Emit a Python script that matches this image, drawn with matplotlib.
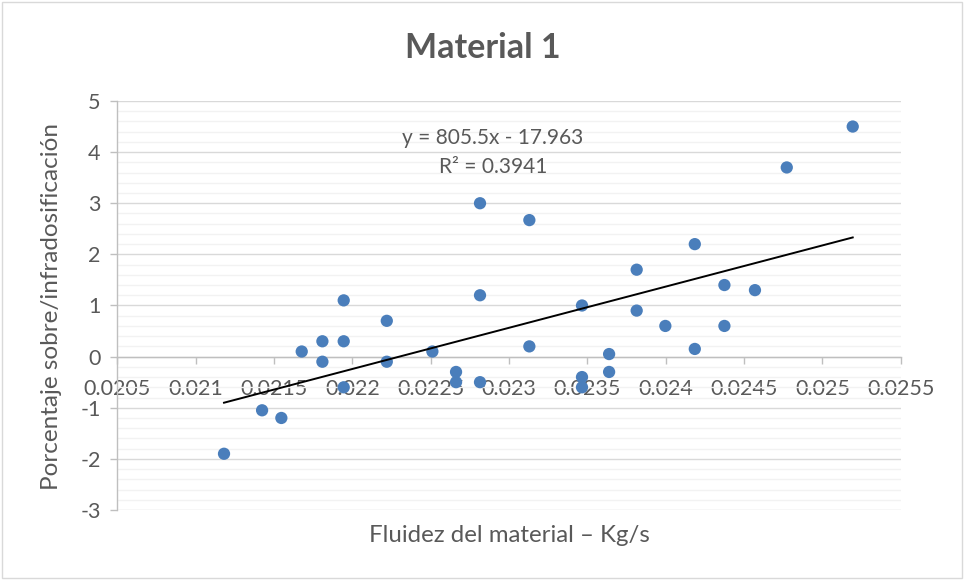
import matplotlib
matplotlib.use("Agg")
import matplotlib.pyplot as plt
from matplotlib.patches import Rectangle
from matplotlib.ticker import MultipleLocator, FixedLocator
import numpy as np

# Material flow rate (kg/s) and over/under-dosing percentage
fluidez = [
    0.021181, 0.021424, 0.021547, 0.021677, 0.021809, 0.021809, 0.021945,
    0.021945, 0.021945, 0.02222, 0.02222, 0.022511, 0.022662, 0.022662,
    0.022815, 0.022815, 0.022815, 0.02313, 0.02313, 0.023466, 0.023466,
    0.023466, 0.023639, 0.023639, 0.023815, 0.023815, 0.023998, 0.024186,
    0.024186, 0.024375, 0.024375, 0.02457, 0.024773, 0.025194,
]
porcentaje = [
    -1.9, -1.05, -1.2, 0.1, 0.3, -0.1, 1.1,
    0.3, -0.6, 0.7, -0.1, 0.1, -0.3, -0.5,
    3.0, 1.2, -0.5, 2.67, 0.2, 1.0, -0.4,
    -0.6, 0.05, -0.3, 1.7, 0.9, 0.6, 2.2,
    0.15, 1.4, 0.6, 1.3, 3.7, 4.5,
]

# Linear trendline coefficients (as reported on the chart)
pendiente = 805.5
intercepto = -17.963
r2 = 0.3941

x_ticks = [0.0205, 0.021, 0.0215, 0.022, 0.0225, 0.023, 0.0235, 0.024,
           0.0245, 0.025, 0.0255]
x_tick_labels = ["0.0205", "0.021", "0.0215", "0.022", "0.0225", "0.023",
                 "0.0235", "0.024", "0.0245", "0.025", "0.0255"]
y_ticks = [-3, -2, -1, 0, 1, 2, 3, 4, 5]

FONT = ["Lato", "DejaVu Sans"]
TXT = "#595959"
plt.rcParams["font.family"] = FONT

fig = plt.figure(figsize=(9.64, 5.80), dpi=100)
fig.patches.append(Rectangle((0.002, 0.003), 0.996, 0.994, transform=fig.transFigure,
                             fill=False, edgecolor="#D9D9D9", linewidth=1.0))

ax = fig.add_axes([0.1217, 0.1207, 0.8126, 0.7052])
ax.set_xlim(0.0205, 0.0255)
ax.set_ylim(-3, 5)

# gridlines: minor every 0.2, major every 1
ax.yaxis.set_major_locator(FixedLocator(y_ticks))
ax.yaxis.set_minor_locator(MultipleLocator(0.2))
ax.grid(axis="y", which="minor", color="#F2F2F2", linewidth=1.0, zorder=0)
ax.grid(axis="y", which="major", color="#D9D9D9", linewidth=1.0, zorder=0)
ax.set_axisbelow(True)

ax.set_xticks(x_ticks)
ax.set_xticklabels(x_tick_labels)
ax.set_yticks(y_ticks)
ax.set_yticklabels([str(v) for v in y_ticks])

for s in ("top", "right"):
    ax.spines[s].set_visible(False)
ax.spines["bottom"].set_position(("data", 0))
ax.spines["bottom"].set_color("#BFBFBF")
ax.spines["left"].set_color("#BFBFBF")
ax.spines["bottom"].set_linewidth(1.0)
ax.spines["left"].set_linewidth(1.0)

ax.tick_params(axis="both", which="major", direction="out", length=5,
               width=1.0, color="#BFBFBF", labelcolor=TXT, labelsize=15.5)
ax.tick_params(axis="y", which="minor", length=0)
ax.tick_params(axis="x", pad=11)
ax.tick_params(axis="y", pad=7)

ax.scatter(fluidez, porcentaje, s=78, color="#4A7EBB", edgecolors="none", zorder=3)

xs = np.array([min(fluidez), max(fluidez)])
ax.plot(xs, pendiente * xs + intercepto, color="black", linewidth=1.4, zorder=4)

ax.text(0.022898, 4.28, f"y = {pendiente}x - {abs(intercepto)}", ha="center",
        va="center", fontsize=15, color=TXT)
ax.text(0.022898, 3.70, f"R² = {r2}", ha="center", va="center",
        fontsize=15, color=TXT)

fig.text(0.501, 0.918, "Material 1", ha="center", va="center",
         fontsize=24.5, fontweight="bold", color=TXT)
fig.text(0.528, 0.077, "Fluidez del material – Kg/s", ha="center", va="center",
         fontsize=17.3, color=TXT)
fig.text(0.053, 0.472, "Porcentaje sobre/infradosificación", ha="center",
         va="center", rotation=90, fontsize=17.5, color=TXT)

fig.savefig("out.png", dpi=100)
